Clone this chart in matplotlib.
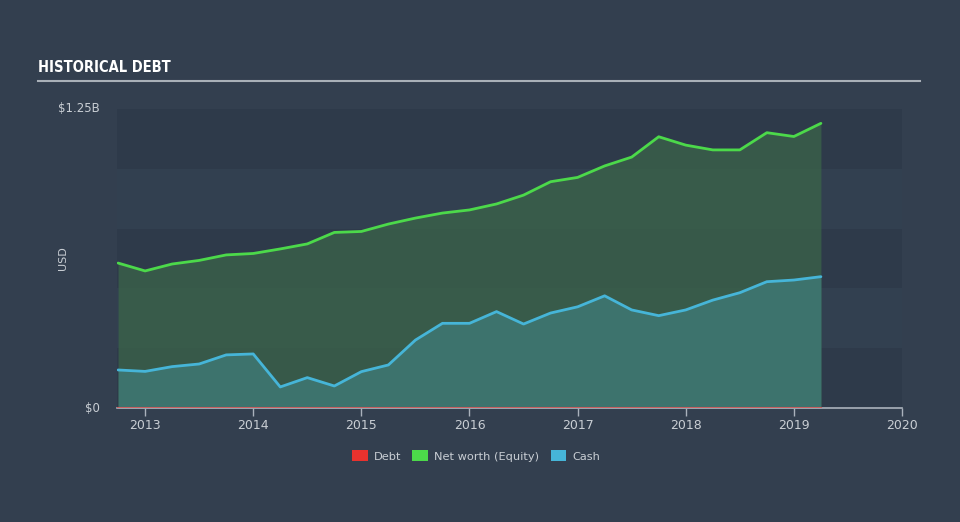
import matplotlib
matplotlib.use("Agg")
import matplotlib.pyplot as plt
from matplotlib.patches import Patch
from matplotlib import font_manager

# quarterly dates (decimal years)
dates = [2012.75, 2013.0, 2013.25, 2013.5, 2013.75, 2014.0, 2014.25, 2014.5, 2014.75,
         2015.0, 2015.25, 2015.5, 2015.75, 2016.0, 2016.25, 2016.5, 2016.75,
         2017.0, 2017.25, 2017.5, 2017.75, 2018.0, 2018.25, 2018.5, 2018.75,
         2019.0, 2019.25]
# values in billions USD
equity = [0.606, 0.573, 0.602, 0.617, 0.640, 0.646, 0.665, 0.686, 0.734,
          0.738, 0.769, 0.794, 0.815, 0.828, 0.853, 0.890, 0.946,
          0.964, 1.012, 1.049, 1.134, 1.099, 1.079, 1.079, 1.151,
          1.135, 1.190]
cash = [0.159, 0.153, 0.173, 0.184, 0.222, 0.226, 0.088, 0.127, 0.092,
        0.152, 0.180, 0.284, 0.354, 0.354, 0.403, 0.351, 0.397,
        0.423, 0.469, 0.410, 0.386, 0.410, 0.451, 0.482, 0.528,
        0.535, 0.549]
debt = [0.0] * len(dates)

year_ticks = [2013, 2014, 2015, 2016, 2017, 2018, 2019, 2020]

BG = "#333f4f"
BAND_DARK = "#2e3a4a"
GREEN = "#4cd94a"
BLUE = "#46b5d8"
RED = "#e8322e"
TXT = "#c9ced4"

names = {f.name for f in font_manager.fontManager.ttflist}

fig = plt.figure(figsize=(9.6, 5.22), dpi=100)
fig.patch.set_facecolor(BG)
ax = fig.add_axes([117 / 960, 1 - 408 / 522, (902 - 117) / 960, (408 - 109) / 522])
ax.set_facecolor(BG)

ax.set_xlim(2012.74, 2020.0)
ax.set_ylim(0, 1.25)

# alternating bands
for lo, hi, c in [(0, 0.25, BAND_DARK), (0.25, 0.5, "#324050"), (0.5, 0.75, BAND_DARK),
                  (0.75, 1.0, "#324050"), (1.0, 1.25, BAND_DARK)]:
    ax.axhspan(lo, hi, color=c, lw=0, zorder=0)

ax.fill_between(dates, 0, equity, color="#3a6249", alpha=0.8, lw=0, zorder=1)
ax.fill_between(dates, 0, cash, color="#3e7570", alpha=0.95, lw=0, zorder=2)
ax.plot(dates, equity, color=GREEN, lw=2, zorder=3, solid_capstyle="round")
ax.plot(dates, cash, color=BLUE, lw=2, zorder=3, solid_capstyle="round")
ax.plot(dates, debt, color=RED, lw=1.5, alpha=0.6, zorder=4)

for s in ["top", "right", "left"]:
    ax.spines[s].set_visible(False)
ax.spines["bottom"].set_color("#aab2bc")
ax.spines["bottom"].set_linewidth(1.2)

ax.set_xticks(year_ticks)
ax.set_xticklabels([str(y) for y in year_ticks])
ax.tick_params(axis="x", colors="#aab2bc", length=6, width=1, labelcolor=TXT,
               labelsize=9, pad=2)
ax.set_yticks([])

fig.text(100 / 960, 1 - 109 / 522, "$1.25B", color=TXT, fontsize=8.5, ha="right", va="center")
fig.text(100 / 960, 1 - 408 / 522, "$0", color=TXT, fontsize=8.5, ha="right", va="center")
fig.text(63 / 960, 1 - 258 / 522, "USD", color=TXT, fontsize=8, rotation=90,
         ha="center", va="center")

title_family = ["DejaVu Sans Condensed"] if "DejaVu Sans Condensed" in names else ["DejaVu Sans"]
fig.text(38 / 960, 1 - 68 / 522, "HISTORICAL DEBT", color="white", fontsize=10.5,
         fontweight="bold", family=title_family, fontstretch="condensed",
         ha="left", va="center")
fig.add_artist(plt.Line2D([38 / 960, 920 / 960], [1 - 81 / 522, 1 - 81 / 522],
                          color="#a9b0b8", lw=1.5))

handles = [Patch(facecolor=RED, label="Debt"),
           Patch(facecolor=GREEN, label="Net worth (Equity)"),
           Patch(facecolor=BLUE, label="Cash")]
leg = fig.legend(handles=handles, loc="center", bbox_to_anchor=(476 / 960, 1 - 456 / 522),
                 ncol=3, frameon=False, fontsize=8.2, handlelength=1.4, handleheight=1.1,
                 columnspacing=1.0, handletextpad=0.5)
for t in leg.get_texts():
    t.set_color(TXT)

fig.savefig("out.png", facecolor=BG)
